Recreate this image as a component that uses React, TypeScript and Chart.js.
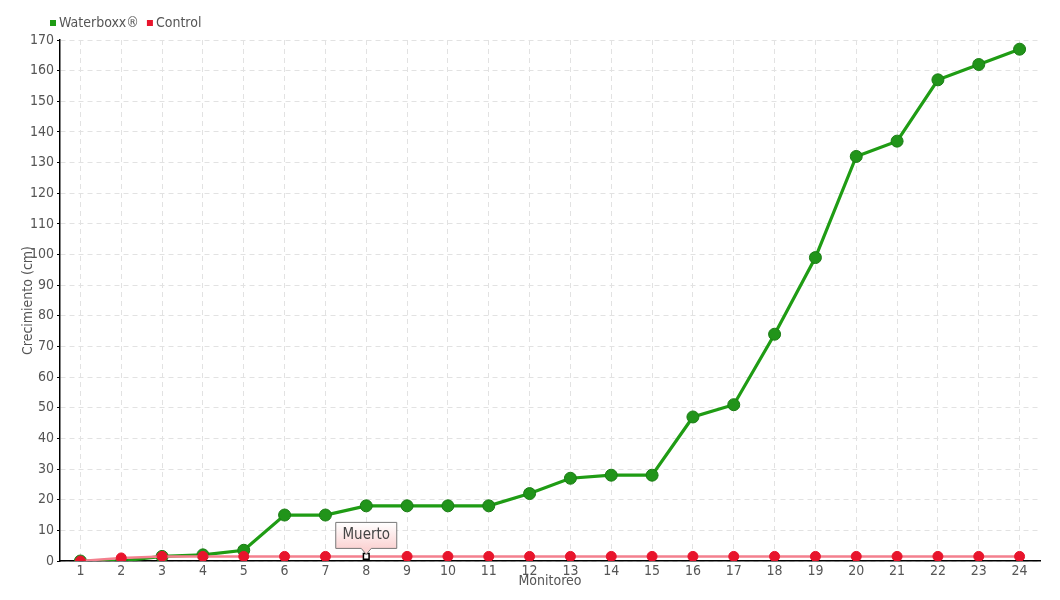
import React, { useEffect, useRef } from "react";
import { Chart, registerables } from "chart.js";

Chart.register(...registerables);

const categories = ["1","2","3","4","5","6","7","8","9","10","11","12","13","14","15","16","17","18","19","20","21","22","23","24"];
const waterboxx = [0, 0, 1.5, 2, 3.5, 15, 15, 18, 18, 18, 18, 22, 27, 28, 28, 47, 51, 74, 99, 132, 137, 157, 162, 167];
const control = [0, 1, 1.5, 1.5, 1.5, 1.5, 1.5, 1.5, 1.5, 1.5, 1.5, 1.5, 1.5, 1.5, 1.5, 1.5, 1.5, 1.5, 1.5, 1.5, 1.5, 1.5, 1.5, 1.5];
const seriesNames = ["Waterboxx®", "Control"];
const noteIndex = 7;
const noteText = "Muerto";

const FONT = '"Liberation Sans Narrow", "DejaVu Sans Condensed", "Roboto", sans-serif';
const TEXT = "#555555";
const GREEN = "#1f9c14";
const GREEN_PT = "#21941a";
const RED = "#e8142c";
const RED_LINE = "#f4808e";

const legendPlugin = {
  id: "customLegend",
  afterDraw(chart: any) {
    const ctx = chart.ctx;
    ctx.save();
    ctx.font = `14px ${FONT}`;
    ctx.textBaseline = "middle";
    ctx.textAlign = "left";
    let x = 42;
    const y = 15;
    const colors = [GREEN, RED];
    seriesNames.forEach((name, i) => {
      ctx.fillStyle = colors[i];
      ctx.fillRect(x, y - 3, 6, 6);
      x += 9;
      ctx.fillStyle = TEXT;
      ctx.fillText(name, x, y);
      x += ctx.measureText(name).width + 8;
    });
    ctx.restore();
  },
};

const notePlugin = {
  id: "note",
  afterDatasetsDraw(chart: any) {
    const meta = chart.getDatasetMeta(1);
    const pt = meta.data[noteIndex];
    if (!pt) return;
    const ctx = chart.ctx;
    const w = 61, h = 26;
    const px = pt.x, py = pt.y;
    const bottom = py - 8;
    const top = bottom - h;
    const left = px - w / 2;
    ctx.save();
    const g = ctx.createLinearGradient(0, top, 0, bottom);
    g.addColorStop(0, "#ffffff");
    g.addColorStop(1, "#fbd3d3");
    ctx.beginPath();
    ctx.moveTo(left, top);
    ctx.lineTo(left + w, top);
    ctx.lineTo(left + w, bottom);
    ctx.lineTo(px + 5, bottom);
    ctx.lineTo(px, bottom + 6);
    ctx.lineTo(px - 5, bottom);
    ctx.lineTo(left, bottom);
    ctx.closePath();
    ctx.fillStyle = g;
    ctx.fill();
    ctx.strokeStyle = "#777777";
    ctx.lineWidth = 1;
    ctx.stroke();
    ctx.fillStyle = "#444444";
    ctx.font = `15px ${FONT}`;
    ctx.textAlign = "center";
    ctx.textBaseline = "middle";
    ctx.fillText(noteText, px, top + h / 2);
    ctx.restore();
  },
};

export default function App() {
  const ref = useRef<HTMLCanvasElement | null>(null);
  useEffect(() => {
    if (!ref.current) return;
    const chart = new Chart(ref.current, {
      type: "line",
      data: {
        labels: categories,
        datasets: [
          {
            label: seriesNames[0],
            data: waterboxx,
            borderColor: GREEN,
            borderWidth: 3.2,
            backgroundColor: GREEN_PT,
            pointBackgroundColor: GREEN_PT,
            pointBorderColor: "#1a7d14",
            pointBorderWidth: 1,
            pointRadius: 6,
            tension: 0,
            order: 1,
          },
          {
            label: seriesNames[1],
            data: control,
            borderColor: RED_LINE,
            borderWidth: 2.5,
            backgroundColor: RED,
            pointBackgroundColor: (c: any) => (c.dataIndex === noteIndex ? "#ffffff" : RED),
            pointBorderColor: (c: any) => (c.dataIndex === noteIndex ? "#000000" : RED),
            pointBorderWidth: (c: any) => (c.dataIndex === noteIndex ? 1.5 : 1),
            pointStyle: (c: any) => (c.dataIndex === noteIndex ? "rect" : "circle"),
            pointRadius: (c: any) => (c.dataIndex === noteIndex ? 4 : 5),
            tension: 0,
            order: 0,
          },
        ],
      },
      options: {
        animation: false,
        responsive: true,
        maintainAspectRatio: false,
        layout: { padding: { top: 32, right: 12, left: 0, bottom: 0 } },
        plugins: {
          legend: { display: false },
          tooltip: { enabled: false },
        },
        scales: {
          x: {
            offset: true,
            afterFit: (s: any) => {
              s.height = 31;
            },
            grid: {
              color: "#e2e2e2",
              tickColor: "transparent",
              tickLength: 2,
            },
            border: { color: "#000000", width: 1.5, dash: [5, 4] },
            ticks: { color: TEXT, font: { family: FONT, size: 14 }, padding: 0, maxRotation: 0, autoSkip: false },
            title: {
              display: true,
              text: "Monitoreo",
              color: TEXT,
              font: { family: FONT, size: 14 },
              padding: { top: 0, bottom: 2 },
            },
          },
          y: {
            min: 0,
            max: 170,
            afterFit: (s: any) => {
              s.width = 52;
            },
            grid: {
              color: "#e2e2e2",
              tickColor: "#000000",
              tickLength: 3,
              tickBorderDash: [],
            },
            border: { color: "#000000", width: 1.5, dash: [5, 4] },
            ticks: { stepSize: 10, color: TEXT, font: { family: FONT, size: 14 }, padding: 3 },
            title: {
              display: true,
              text: "Crecimiento (cm)",
              color: TEXT,
              font: { family: FONT, size: 14 },
              padding: { top: 12, bottom: 0 },
            },
          },
        },
      },
      plugins: [legendPlugin, notePlugin],
    } as any);
    return () => chart.destroy();
  }, []);
  return (
    <div style={{ width: 1044, height: 584, position: "relative" }}>
      <canvas ref={ref} />
    </div>
  );
}
